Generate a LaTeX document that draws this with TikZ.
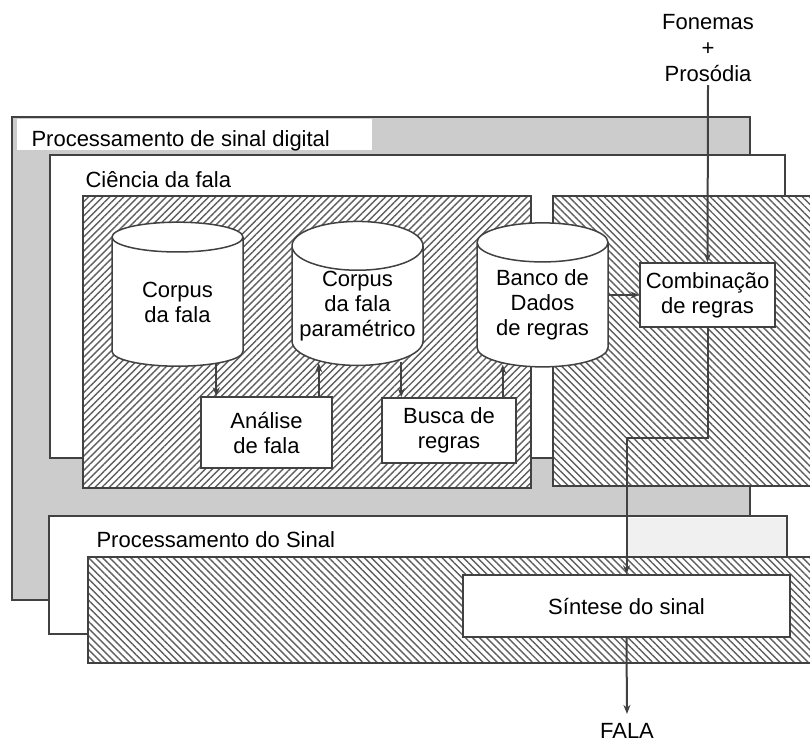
\documentclass[tikz,border=0pt]{standalone}
\usepackage{fontspec}
\setmainfont{Liberation Sans}
\usetikzlibrary{positioning, arrows.meta, calc, shapes.geometric, patterns.meta}
\tikzset{
    >={Stealth[length=9pt, width=7pt]},
    every node/.style={font=\fontsize{22}{25}\selectfont}
}

\begin{document}
\begin{tikzpicture}[x=1pt, y=-1pt]
  % grey tones of the printed page
  \definecolor{edgeColor}{RGB}{65,65,65}
  \definecolor{dotColor}{RGB}{204,204,204}
  \definecolor{hatchColor}{RGB}{95,95,95}

  % common styles
  \tikzset{
    layer/.style={draw=edgeColor, line width=1.5pt},
    dotlayer/.style={layer, fill=dotColor},
    whitelayer/.style={layer, fill=white},
    hatchne/.style={layer, preaction={fill=white},
      pattern={Lines[angle=45, distance=5pt, line width=1.4pt]}, pattern color=hatchColor},
    hatchnw/.style={layer, preaction={fill=white},
      pattern={Lines[angle=-45, distance=5pt, line width=1.4pt]}, pattern color=hatchColor},
    block/.style={draw=edgeColor, line width=1.5pt, fill=white, align=center, inner sep=2pt},
    db/.style={block, cylinder, shape border rotate=90, aspect=0.42, inner sep=0pt,
      minimum width=131pt, minimum height=144pt},
    flow/.style={->, draw=edgeColor, line width=2pt}
  }

  \useasboundingbox (0,0) rectangle (810,745);

  % nested areas, back to front
  \draw[dotlayer] (12,117) rectangle (750,600);
  \fill[white] (17,119) rectangle (372,150);
  \node[anchor=base west] (dsp) at (28,146) {Processamento de sinal digital};

  \draw[whitelayer] (50,155) rectangle (785,458);
  \node[anchor=base west] (cie) at (82,187) {Ciência da fala};
  \draw[hatchne] (83,196) rectangle (531,488);
  \draw[hatchnw] (553,196) rectangle (815,486);

  \draw[whitelayer] (49,516) rectangle (787,634);
  \fill[gray!12] (628,518) rectangle (786,556);
  \node[anchor=base west] (proc) at (93,547) {Processamento do Sinal};
  \draw[hatchnw] (88,557) rectangle (815,663);

  % data stores
  \node[db] (cf)  at (177.5,302) {Corpus\\da fala};
  \node[db] (cfp) at (357.5,306) {Corpus\\da fala\\paramétrico};
  \node[db] (bd)  at (542.5,305) {Banco de\\Dados\\de regras};

  % processing steps
  \node[block, minimum width=131pt, minimum height=71pt] (an)   at (266.5,432.5) {Análise\\de fala};
  \node[block, minimum width=134pt, minimum height=65pt] (bu)   at (449,430.5)   {Busca de\\regras};
  \node[block, minimum width=135pt, minimum height=64pt] (comb) at (707.5,295)   {Combinação\\de regras};
  \node[block, minimum width=327pt, minimum height=62pt] (sint) at (626.5,606)   {Síntese do sinal};

  % inputs and output
  \node[align=center, font=\fontsize{22}{26}\selectfont] (fon) at (708,48) {Fonemas\\+\\Prosódia};
  \node (fala) at (627,731) {FALA};

  % connectors
  \coordinate (a1) at ([xshift=16pt]an.north west);
  \coordinate (a2) at ([xshift=-14pt]an.north east);
  \coordinate (b1) at ([xshift=20pt]bu.north west);
  \coordinate (b2) at ([xshift=-14pt]bu.north east);
  \draw[flow] ($(cf.south -| a1)+(0,-3)$) -- (a1);
  \draw[flow] (a2) -- ($(cfp.south -| a2)+(0,-3)$);
  \draw[flow] ($(cfp.south -| b1)+(0,-4)$) -- (b1);
  \draw[flow] (b2) -- ($(bd.south -| b2)+(0,-3)$);
  \draw[flow] (bd.east |- comb.west) -- (comb.west);
  \draw[flow] (fon.south) -- (comb.north);
  \draw[flow] (comb.south) -- ++(0,110) -| (sint.north);
  \draw[flow, shorten >=6pt] (sint.south) -- (fala.north);
\end{tikzpicture}
\end{document}
